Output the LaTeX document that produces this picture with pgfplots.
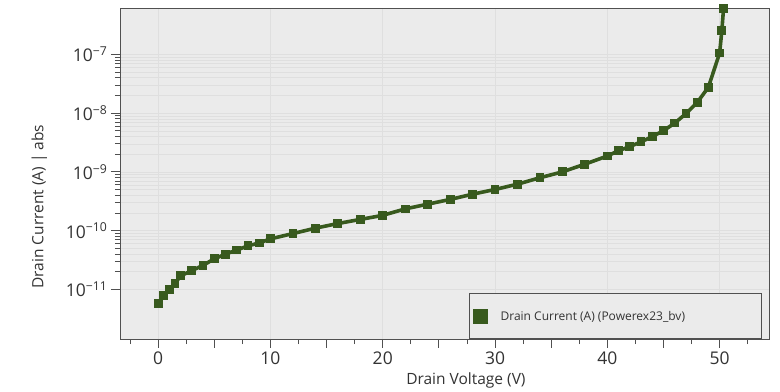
\documentclass[border=0pt]{standalone}
\usepackage{pgfplots}
\pgfplotsset{compat=1.18}
\usepackage{fontspec}
\setmainfont{Open Sans}
\usetikzlibrary{calc}
\definecolor{dgreen}{HTML}{385A1E}
\definecolor{bggray}{HTML}{EBEBEB}
\definecolor{gridgray}{HTML}{DFDFDF}
\definecolor{axgray}{HTML}{505050}
\definecolor{txt}{HTML}{333333}
\begin{document}
\begin{tikzpicture}
\begin{axis}[
  scale only axis,
  width=649pt, height=331pt,
  ymode=log,
  xmin=-3.4, xmax=54.4,
  ymin=1.43e-12, ymax=6.14e-7,
  axis background/.style={fill=bggray},
  axis line style={axgray, line width=0.9pt},
  tick align=outside,
  tick style={axgray, line width=0.8pt},
  major tick length=9pt,
  minor tick length=5pt,
  xtick={0,10,20,30,40,50},
  extra x ticks={5,15,25,35,45},
  extra x tick labels={},
  extra x tick style={grid=none, major tick length=9pt},
  minor xtick={-2.5,2.5,7.5,12.5,17.5,22.5,27.5,32.5,37.5,42.5,47.5,52.5},
  xtick pos=bottom,
  ytick={1e-11,1e-10,1e-9,1e-8,1e-7},
  yticklabels={10\textsuperscript{−11},10\textsuperscript{−10},10\textsuperscript{−9},10\textsuperscript{−8},10\textsuperscript{−7}},
  ytick pos=left,
  xmajorgrids=true,
  ymajorgrids=true,
  yminorgrids=true,
  major grid style={gridgray, line width=0.6pt},
  minor grid style={gridgray, line width=0.5pt},
  /pgf/number format/assume math mode=true,
  tick label style={font=\fontsize{17.5}{20}\selectfont, text=txt},
  xlabel={Drain Voltage (V)},
  ylabel={Drain Current (A) | abs},
  label style={font=\fontsize{15.5}{18}\selectfont, text=txt},
  xlabel style={at={(ticklabel cs:0.533)}, anchor=near ticklabel, yshift=17pt},
  ylabel style={at={(ticklabel cs:0.40)}, anchor=near ticklabel, yshift=12pt},
  legend style={at={(rel axis cs:0.538,0)}, anchor=south west, draw=axgray, line width=0.9pt, fill=bggray,
    font=\fontsize{12}{14}\selectfont, text=txt, inner xsep=4pt, inner ysep=15pt},
  legend image code/.code={\draw[mark=square*, mark size=7pt, mark options={fill=dgreen, draw=dgreen, line width=0pt}, only marks] plot coordinates {(0pt,0pt)};},
  legend cell align=left,
]
\addplot[dgreen, line width=3.6pt, mark=square*, mark size=3.9pt, mark options={fill=dgreen, draw=dgreen, line width=0pt}]
coordinates {
(0,5.75e-12) (0.5,7.76e-12) (1,1.0e-11) (1.5,1.26e-11) (2,1.70e-11)
(3,2.09e-11) (4,2.57e-11) (5,3.31e-11) (6,3.98e-11) (7,4.68e-11)
(8,5.50e-11) (9,6.17e-11) (10,7.24e-11) (12,8.91e-11) (14,1.10e-10)
(16,1.32e-10) (18,1.55e-10) (20,1.82e-10) (22,2.34e-10) (24,2.82e-10)
(26,3.39e-10) (28,4.17e-10) (30,5.01e-10) (32,6.17e-10) (34,7.94e-10)
(36,1.0e-9) (38,1.35e-9) (40,1.86e-9) (41,2.29e-9) (42,2.69e-9)
(43,3.24e-9) (44,3.98e-9) (45,5.01e-9) (46,6.76e-9) (47,9.77e-9)
(48,1.51e-8) (49,2.75e-8) (50,1.05e-7) (50.2,2.51e-7) (50.35,6.03e-7)
};
\addlegendentry{\makebox[266pt][l]{\hspace{11pt}Drain Current (A) (Powerex23\_bv)}}
\end{axis}
\path ($(current axis.south west)+(-120pt,-49pt)$) rectangle ($(current axis.north east)+(11pt,8pt)$);
\end{tikzpicture}
\end{document}
